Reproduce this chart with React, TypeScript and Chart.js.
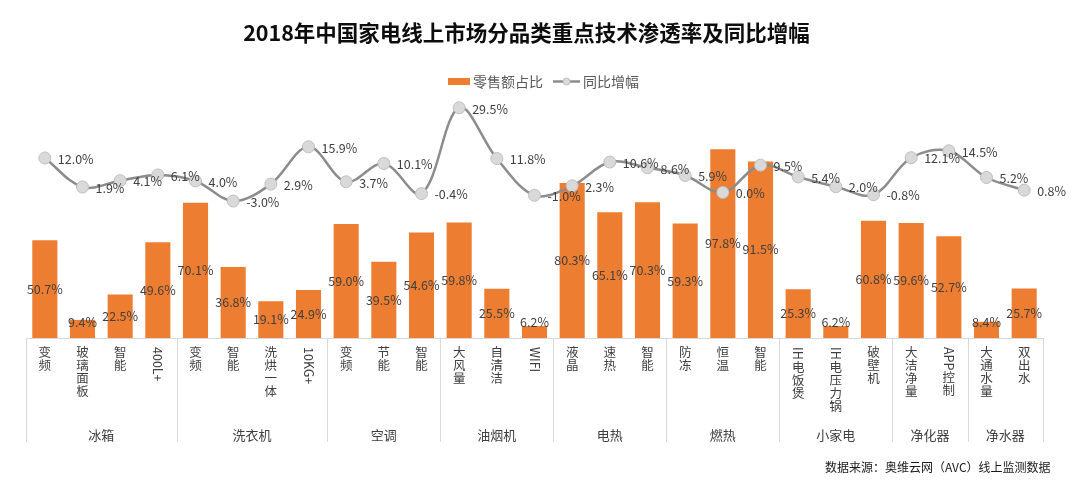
import React, { useEffect, useRef } from 'react';
import { Chart, registerables } from 'chart.js';

Chart.register(...registerables);

const TITLE = '2018年中国家电线上市场分品类重点技术渗透率及同比增幅';
const SERIES_BAR = '零售额占比';
const SERIES_LINE = '同比增幅';
const SOURCE = '数据来源：奥维云网（AVC）线上监测数据';

const groups = ['冰箱', '洗衣机', '空调', '油烟机', '电热', '燃热', '小家电', '净化器', '净水器'];
const groupSizes = [4, 4, 3, 3, 3, 3, 3, 2, 2];
const categories = [
  '变频', '玻璃面板', '智能', '400L+',
  '变频', '智能', '洗烘一体', '10KG+',
  '变频', '节能', '智能',
  '大风量', '自清洁', 'WIFI',
  '液晶', '速热', '智能',
  '防冻', '恒温', '智能',
  'IH电饭煲', 'IH电压力锅', '破壁机',
  '大洁净量', 'APP控制',
  '大通水量', '双出水',
];
const retailShare = [
  50.7, 9.4, 22.5, 49.6,
  70.1, 36.8, 19.1, 24.9,
  59.0, 39.5, 54.6,
  59.8, 25.5, 6.2,
  80.3, 65.1, 70.3,
  59.3, 97.8, 91.5,
  25.3, 6.2, 60.8,
  59.6, 52.7,
  8.4, 25.7,
];
const yoyGrowth = [
  12.0, 1.9, 4.1, 6.1,
  4.0, -3.0, 2.9, 15.9,
  3.7, 10.1, -0.4,
  29.5, 11.8, -1.0,
  2.3, 10.6, 8.6,
  5.9, 0.0, 9.5,
  5.4, 2.0, -0.8,
  12.1, 14.5,
  5.2, 0.8,
];

const FONT = '"Noto Sans CJK SC", "Noto Sans", sans-serif';
const ORANGE = '#ED7D31';
const TEXT = '#404040';
const LINE_GREY = '#8c8c8c';
const POINT_FILL = '#d9d9d9';
const POINT_BORDER = '#bfbfbf';
const AXIS_GREY = '#d9d9d9';

const fmt = (v: number) => v.toFixed(1) + '%';

function drawVerticalLabel(ctx: CanvasRenderingContext2D, text: string, x: number, yTop: number, step: number) {
  let y = yTop;
  const runs = text.match(/[\x00-\x7F]+|[^\x00-\x7F]/g) || [];
  for (const run of runs) {
    if (/^[\x00-\x7F]+$/.test(run)) {
      const w = ctx.measureText(run).width;
      ctx.save();
      ctx.translate(x, y + 1);
      ctx.rotate(Math.PI / 2);
      ctx.textAlign = 'left';
      ctx.textBaseline = 'middle';
      ctx.fillText(run, 0, 0);
      ctx.restore();
      y += w + 2;
    } else {
      ctx.textAlign = 'center';
      ctx.textBaseline = 'top';
      ctx.fillText(run, x, y);
      y += step;
    }
  }
}

const decorPlugin = {
  id: 'decor',
  afterDatasetsDraw(chart: any) {
    const ctx: CanvasRenderingContext2D = chart.ctx;
    const bottom = chart.chartArea.bottom;
    ctx.save();
    // bar value labels
    const barMeta = chart.getDatasetMeta(1);
    ctx.font = `12.5px ${FONT}`;
    ctx.fillStyle = TEXT;
    ctx.textAlign = 'center';
    ctx.textBaseline = 'middle';
    barMeta.data.forEach((el: any, i: number) => {
      const cy = Math.min((el.y + el.base) / 2, bottom - 16);
      ctx.fillText(fmt(retailShare[i]), el.x, cy);
    });
    // line value labels
    const lineMeta = chart.getDatasetMeta(0);
    ctx.textAlign = 'left';
    lineMeta.data.forEach((el: any, i: number) => {
      ctx.fillText(fmt(yoyGrowth[i]), el.x + 13, el.y + 1);
    });
    ctx.restore();
  },
  afterDraw(chart: any) {
    const ctx: CanvasRenderingContext2D = chart.ctx;
    const { left, right, bottom } = chart.chartArea;
    const xs = chart.scales.x;
    const band = (right - left) / categories.length;
    ctx.save();

    // title
    ctx.font = `bold 21.5px ${FONT}`;
    ctx.fillStyle = '#0d0d0d';
    ctx.textAlign = 'center';
    ctx.textBaseline = 'middle';
    ctx.fillText(TITLE, 526.5, 33);

    // legend
    ctx.font = `14px ${FONT}`;
    ctx.fillStyle = ORANGE;
    ctx.fillRect(448, 78, 22, 7);
    ctx.fillStyle = '#595959';
    ctx.textAlign = 'left';
    ctx.fillText(SERIES_BAR, 473, 81.5);
    ctx.strokeStyle = LINE_GREY;
    ctx.lineWidth = 2.5;
    ctx.beginPath();
    ctx.moveTo(553, 81.5);
    ctx.lineTo(580, 81.5);
    ctx.stroke();
    ctx.beginPath();
    ctx.arc(566.5, 81.5, 3.5, 0, Math.PI * 2);
    ctx.fillStyle = POINT_FILL;
    ctx.fill();
    ctx.lineWidth = 1;
    ctx.strokeStyle = POINT_BORDER;
    ctx.stroke();
    ctx.fillStyle = '#595959';
    ctx.fillText(SERIES_LINE, 583, 81.5);

    // category axis
    ctx.strokeStyle = AXIS_GREY;
    ctx.lineWidth = 1;
    ctx.beginPath();
    ctx.moveTo(left, bottom + 0.5);
    ctx.lineTo(right, bottom + 0.5);
    ctx.stroke();

    let idx = 0;
    const boundaries: number[] = [left];
    groups.forEach((g, gi) => {
      const start = idx;
      idx += groupSizes[gi];
      const x0 = xs.getPixelForValue(start) - band / 2;
      const x1 = xs.getPixelForValue(idx - 1) + band / 2;
      boundaries.push(x1);
      ctx.font = `13px ${FONT}`;
      ctx.fillStyle = TEXT;
      ctx.textAlign = 'center';
      ctx.textBaseline = 'middle';
      ctx.fillText(g, (x0 + x1) / 2, bottom + 97);
    });
    ctx.beginPath();
    boundaries.forEach((bx) => {
      const px = Math.round(bx) + 0.5;
      ctx.moveTo(px, bottom);
      ctx.lineTo(px, bottom + 104);
    });
    ctx.stroke();

    ctx.font = `12.5px ${FONT}`;
    ctx.fillStyle = TEXT;
    categories.forEach((c, i) => {
      drawVerticalLabel(ctx, c, xs.getPixelForValue(i), bottom + 8, 13);
    });

    // source
    ctx.font = `12px ${FONT}`;
    ctx.fillStyle = '#1a1a1a';
    ctx.textAlign = 'left';
    ctx.textBaseline = 'middle';
    ctx.fillText(SOURCE, 825, 467);

    ctx.restore();
  },
};

export default function App() {
  const ref = useRef<HTMLCanvasElement>(null);
  useEffect(() => {
    const canvas = ref.current!;
    const chart = new Chart(canvas, {
      type: 'bar',
      data: {
        labels: categories,
        datasets: [
          {
            type: 'line',
            label: SERIES_LINE,
            data: yoyGrowth,
            yAxisID: 'y1',
            order: 0,
            borderColor: LINE_GREY,
            borderWidth: 2.5,
            tension: 0.35,
            pointRadius: 6,
            pointBackgroundColor: POINT_FILL,
            pointBorderColor: POINT_BORDER,
            pointBorderWidth: 1,
            fill: false,
            clip: false,
          } as any,
          {
            type: 'bar',
            label: SERIES_BAR,
            data: retailShare,
            yAxisID: 'y',
            order: 1,
            backgroundColor: ORANGE,
            barPercentage: 0.9,
            categoryPercentage: 0.74,
          },
        ],
      },
      options: {
        responsive: false,
        animation: false,
        layout: { padding: { top: 100, left: 26, right: 37, bottom: 157 } },
        plugins: {
          legend: { display: false },
          title: { display: false },
          tooltip: { enabled: false },
        },
        scales: {
          x: { display: false, offset: true },
          y: { display: false, min: 0, max: 123.3 },
          y1: { display: false, min: -50.7, max: 32.2, position: 'right' },
        },
      },
      plugins: [decorPlugin],
    });
    return () => chart.destroy();
  }, []);
  return (
    <div style={{ position: 'fixed', left: 0, top: 0, width: 1080, height: 495, background: '#fff' }}>
      <canvas ref={ref} width={1080} height={495} style={{ display: 'block' }} />
    </div>
  );
}
